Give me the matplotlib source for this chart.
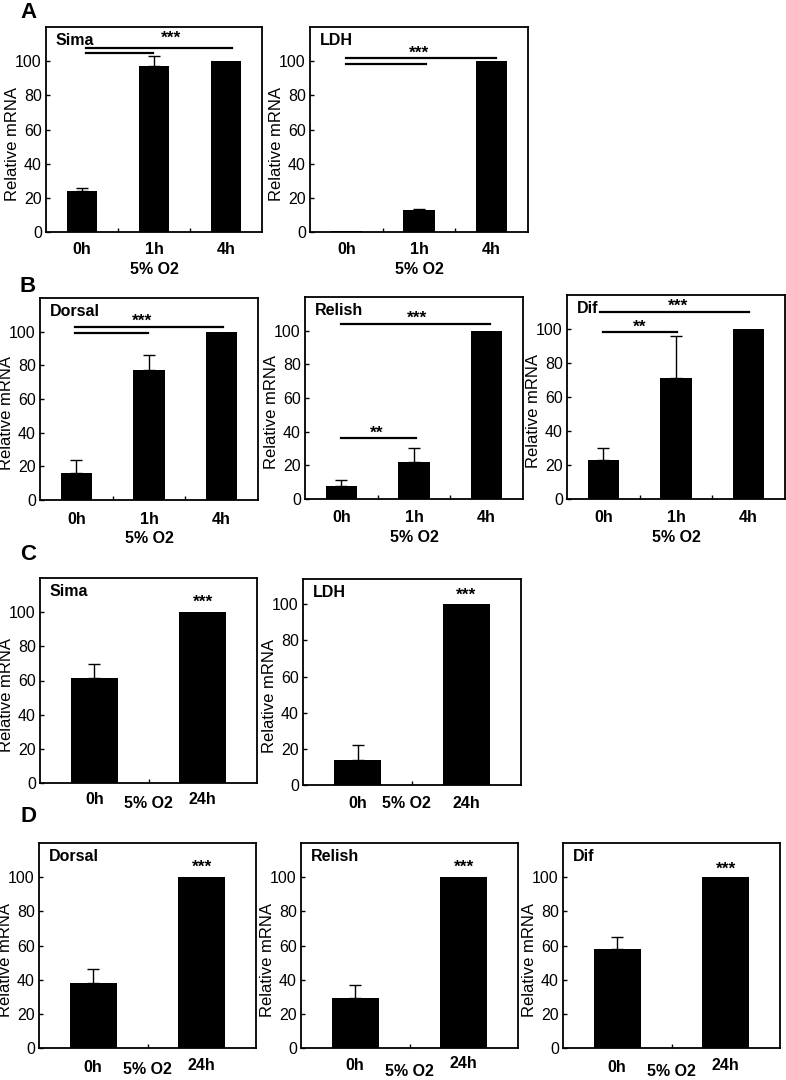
import matplotlib
matplotlib.use("Agg")
import matplotlib.pyplot as plt
import numpy as np

plt.rcParams["font.family"] = ["Liberation Sans", "DejaVu Sans"]

# ---- data (relative mRNA, mean and upper error) ----
short_times = ["0h", "1h", "4h"]
long_times = ["0h", "24h"]
condition = "5% O2"

a_sima = [24, 97, 100]
a_sima_err = [1.5, 6, 0]
a_ldh = [0.6, 13, 100]
a_ldh_err = [0, 0.6, 0]

b_dorsal = [16, 77, 100]
b_dorsal_err = [7.5, 9, 0]
b_relish = [8, 22, 100]
b_relish_err = [3, 8.5, 0]
b_dif = [23, 71, 100]
b_dif_err = [7, 25, 0]

c_sima = [61.5, 100]
c_sima_err = [8, 0]
c_ldh = [14, 100]
c_ldh_err = [8, 0]

d_dorsal = [38, 100]
d_dorsal_err = [8.5, 0]
d_relish = [29, 100]
d_relish_err = [8, 0]
d_dif = [58, 100]
d_dif_err = [7, 0]

W, H = 786, 1080
fig = plt.figure(figsize=(W / 100, H / 100), dpi=100)


def add_ax(l, t, r, b):
    return fig.add_axes([l / W, 1 - b / H, (r - l) / W, (b - t) / H])


def panel(box, title, labels, vals, errs, ymax=120, lines=(), stars=(),
          lab_dy=(18, 18, 18), cond_x=1, cond_dy=38):
    ax = add_ax(*box)
    n = len(vals)
    x = np.arange(n)
    ax.bar(x, vals, width=0.43, color="black", zorder=2)
    errs = np.array(errs)
    m = errs > 0
    ax.errorbar(x[m], np.array(vals)[m], yerr=[np.zeros(m.sum()), errs[m]],
                fmt="none", ecolor="black", elinewidth=1, capsize=4,
                capthick=1, zorder=3)
    ax.set_xlim(-0.5, n - 0.5)
    ax.set_ylim(0, ymax)
    ax.set_yticks(range(0, 101, 20))
    ax.set_xticks(np.arange(n - 1) + 0.5)
    ax.set_xticklabels([])
    ax.tick_params(direction="in", length=3, width=1, labelsize=11.5, pad=3)
    for s in ax.spines.values():
        s.set_linewidth(1.3)
    ax.annotate(title, xy=(0, 1), xycoords="axes fraction", xytext=(7, -4),
                textcoords="offset points", ha="left", va="top",
                fontweight="bold", fontsize=11.5)
    ax.set_ylabel("Relative mRNA", fontsize=12)
    ax.yaxis.set_label_coords(-26 / (box[2] - box[0]), 0.43)
    for i, lab in enumerate(labels):
        ax.annotate(lab, xy=(i, 0), xycoords=("data", "axes fraction"),
                    xytext=(0, -lab_dy[i] * 0.72), textcoords="offset points",
                    ha="center", va="center", fontweight="bold", fontsize=11.5)
    ax.annotate(condition, xy=(cond_x, 0), xycoords=("data", "axes fraction"),
                xytext=(0, -cond_dy * 0.72), textcoords="offset points",
                ha="center", va="center", fontweight="bold", fontsize=11.5)
    for x0, x1, y in lines:
        ax.plot([x0, x1], [y, y], color="black", lw=1.6, clip_on=False)
    for xs, ys, txt in stars:
        ax.text(xs, ys, txt, ha="center", va="baseline", fontweight="bold",
                fontsize=12.5)
    return ax


# A
panel((46, 27, 262, 232), "Sima", short_times, a_sima, a_sima_err,
      lines=[(0.06, 2.08, 107.5), (0.06, 0.99, 104.6)],
      stars=[(1.23, 110.5, "***")])
panel((310, 27, 528, 232), "LDH", short_times, a_ldh, a_ldh_err,
      lines=[(0.0, 2.06, 101.7), (0.0, 1.1, 98.3)],
      stars=[(1.0, 102, "***")])

# B
panel((40, 298, 258, 500), "Dorsal", short_times, b_dorsal, b_dorsal_err,
      lines=[(-0.02, 2.02, 103), (-0.02, 0.98, 99.4)],
      stars=[(0.91, 103.5, "***")], lab_dy=(19, 19, 19))
panel((305, 297, 523, 499), "Relish", short_times, b_relish, b_relish_err,
      lines=[(0.0, 2.05, 104), (0.0, 1.03, 36)],
      stars=[(1.04, 104.5, "***"), (0.49, 36.5, "**")], lab_dy=(19, 19, 19))
panel((567, 295, 785, 499), "Dif", short_times, b_dif, b_dif_err,
      lines=[(-0.05, 2.0, 110), (0.0, 1.02, 98)],
      stars=[(1.03, 110.5, "***"), (0.5, 98.5, "**")], lab_dy=(19, 19, 19))

# C
panel((40, 578, 257, 783), "Sima", long_times, c_sima, c_sima_err,
      stars=[(1.0, 103, "***")], lab_dy=(17, 16), cond_x=0.5, cond_dy=20)
panel((303, 579, 521, 785), "LDH", long_times, c_ldh, c_ldh_err, ymax=114,
      stars=[(1.0, 102.5, "***")], lab_dy=(18, 18), cond_x=0.45, cond_dy=18)

# D
panel((39, 843, 256, 1048), "Dorsal", long_times, d_dorsal, d_dorsal_err,
      stars=[(1.0, 103.4, "***")], lab_dy=(19, 17), cond_x=0.5, cond_dy=21)
panel((301, 843, 518, 1048), "Relish", long_times, d_relish, d_relish_err,
      stars=[(1.0, 103.4, "***")], lab_dy=(18, 16), cond_x=0.5, cond_dy=23)
panel((563, 843, 780, 1048), "Dif", long_times, d_dif, d_dif_err,
      stars=[(1.0, 102, "***")], lab_dy=(19, 18), cond_x=0.5, cond_dy=23)

for letter, px, py in [("A", 29, 12), ("B", 28, 286), ("C", 28, 555), ("D", 28, 816)]:
    fig.text(px / W, 1 - py / H, letter, fontsize=16, fontweight="bold",
             ha="center", va="center")

fig.savefig("out.png", dpi=100)
